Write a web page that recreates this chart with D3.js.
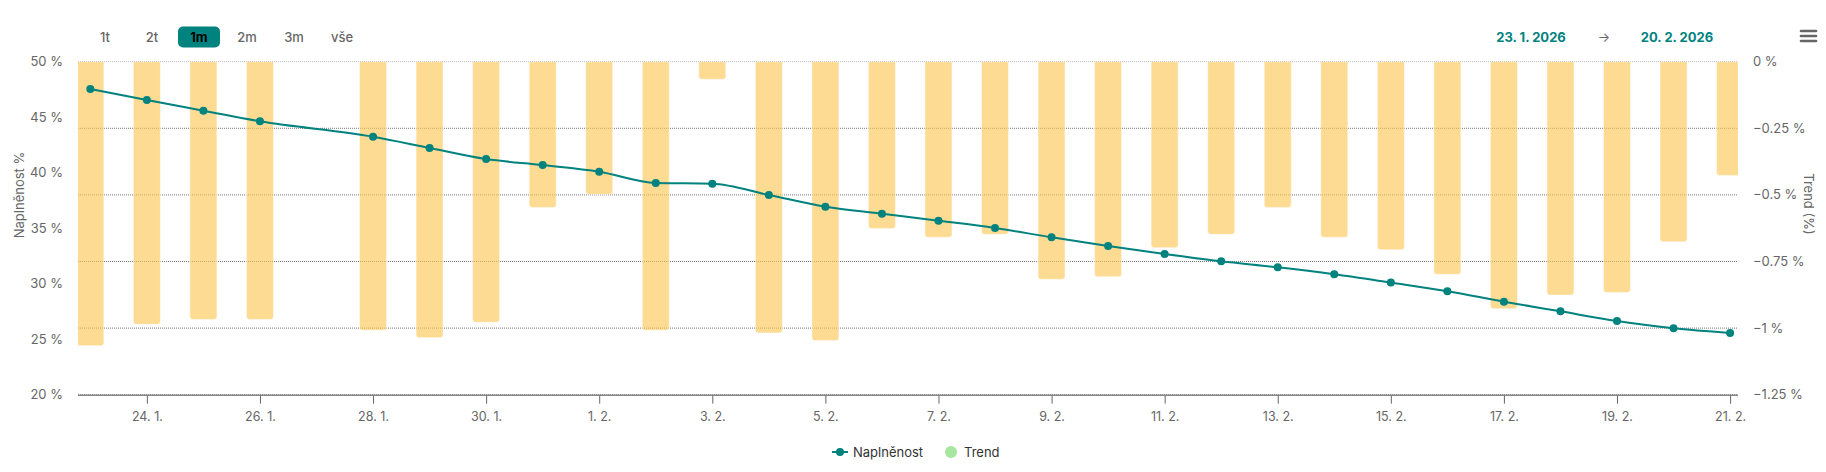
<!DOCTYPE html>
<html>
<head>
<meta charset="utf-8">
<script src="https://cdn.jsdelivr.net/npm/d3@7"></script>
<style>
  body { margin: 0; background: #fff; font-family: Inter, "Noto Sans", sans-serif; }
  svg text { font-family: Inter, "Noto Sans", sans-serif; }
</style>
</head>
<body>
<div id="chart"></div>
<script>
const dates = [
  "2026-01-23", "2026-01-24", "2026-01-25", "2026-01-26", "2026-01-28",
  "2026-01-29", "2026-01-30", "2026-01-31", "2026-02-01", "2026-02-02",
  "2026-02-03", "2026-02-04", "2026-02-05", "2026-02-06", "2026-02-07",
  "2026-02-08", "2026-02-09", "2026-02-10", "2026-02-11", "2026-02-12",
  "2026-02-13", "2026-02-14", "2026-02-15", "2026-02-16", "2026-02-17",
  "2026-02-18", "2026-02-19", "2026-02-20", "2026-02-21"
];

// Naplněnost (%), left axis
const fillLevel = [
  47.54, 46.55, 45.59, 44.63, 43.24, 42.23, 41.23, 40.69, 40.09, 39.07,
  39.01, 37.99, 36.94, 36.31, 35.68, 35.02, 34.18, 33.40, 32.68, 32.02,
  31.48, 30.85, 30.10, 29.32, 28.38, 27.51, 26.64, 25.98, 25.56
];

// Trend (%), right axis
const trend = [
  -1.066, -0.986, -0.968, -0.968, -1.008, -1.036, -0.978, -0.547, -0.498, -1.008,
  -0.066, -1.018, -1.047, -0.626, -0.659, -0.648, -0.817, -0.807, -0.698, -0.648,
  -0.547, -0.659, -0.706, -0.798, -0.927, -0.876, -0.866, -0.676, -0.427
];

const tickDates = [
  "2026-01-24", "2026-01-26", "2026-01-28", "2026-01-30", "2026-02-01",
  "2026-02-03", "2026-02-05", "2026-02-07", "2026-02-09", "2026-02-11",
  "2026-02-13", "2026-02-15", "2026-02-17", "2026-02-19", "2026-02-21"
];
const leftTicks = [20, 25, 30, 35, 40, 45, 50];
const rightTicks = [0, -0.25, -0.5, -0.75, -1, -1.25];
const rangeButtons = ["1t", "2t", "1m", "2m", "3m", "vše"];
const activeButton = "1m";
const rangeFrom = "23. 1. 2026",
  rangeTo = "20. 2. 2026";

const width = 1826,
  height = 472;
const plot = { left: 78, right: 1738, top: 61.7, bottom: 394.7 };
const teal = "#00827e",
  barColor = "#fdc655",
  trendColor = "#a6e6a1",
  labelColor = "#666";

const parse = d3.utcParse("%Y-%m-%d");
const day = 864e5;
const points = dates.map((d, i) => ({ date: parse(d), fill: fillLevel[i], trend: trend[i] }));

const svg = d3.select("#chart")
  .append("svg")
  .attr("width", width)
  .attr("height", height);

// Scales
const x = d3.scaleUtc()
  .domain([new Date(+parse(dates[0]) - 0.218 * day), new Date(+parse(dates[dates.length - 1]) + 0.14 * day)])
  .range([plot.left, plot.right]);
const yLeft = d3.scaleLinear().domain([20, 50]).range([plot.bottom, plot.top]);
const yRight = d3.scaleLinear().domain([-1.25, 0]).range([plot.bottom, plot.top]);

svg.append("defs").append("clipPath")
  .attr("id", "plot-clip")
  .append("rect")
  .attr("x", plot.left)
  .attr("y", plot.top)
  .attr("width", plot.right - plot.left)
  .attr("height", plot.bottom - plot.top);

// Grid lines (from right axis)
svg.append("g")
  .selectAll("line")
  .data(rightTicks)
  .join("line")
  .attr("x1", plot.left)
  .attr("x2", plot.right)
  .attr("y1", d => yRight(d))
  .attr("y2", d => yRight(d))
  .attr("stroke", (d, i) => (i === 0 ? "#bbb" : "#777"))
  .attr("stroke-width", 1)
  .attr("stroke-dasharray", "1,1");

// Trend bars, hanging from 0 with rounded bottom corners
const barW = 27,
  r = 3;
function barPath(d) {
  const cx = x(d.date),
    x0 = cx - barW / 2,
    x1 = cx + barW / 2,
    y0 = yRight(0),
    y1 = yRight(d.trend);
  const rr = Math.min(r, (y1 - y0) / 2);
  return `M${x0},${y0}L${x1},${y0}L${x1},${y1 - rr}Q${x1},${y1} ${x1 - rr},${y1}` +
    `L${x0 + rr},${y1}Q${x0},${y1} ${x0},${y1 - rr}Z`;
}

svg.append("g")
  .attr("clip-path", "url(#plot-clip)")
  .selectAll("path")
  .data(points)
  .join("path")
  .attr("d", barPath)
  .attr("fill", barColor)
  .attr("fill-opacity", 0.64)
  .attr("stroke", "#fff")
  .attr("stroke-opacity", 0.45)
  .attr("stroke-width", 1);

// X axis
svg.append("line")
  .attr("x1", plot.left)
  .attr("x2", plot.right)
  .attr("y1", plot.bottom + 0.5)
  .attr("y2", plot.bottom + 0.5)
  .attr("stroke", "#888")
  .attr("stroke-width", 1.5);

const xAxis = d3.axisBottom(x)
  .tickValues(tickDates.map(parse))
  .tickSize(8)
  .tickPadding(8)
  .tickFormat(d => `${d.getUTCDate()}. ${d.getUTCMonth() + 1}.`);

const gx = svg.append("g")
  .attr("transform", `translate(0,${plot.bottom + 1})`)
  .call(xAxis);
gx.select(".domain").remove();
gx.selectAll(".tick line").attr("stroke", "#666");
gx.selectAll(".tick text")
  .attr("fill", labelColor)
  .attr("font-size", 12.5);

// Left axis labels
svg.append("g")
  .selectAll("text")
  .data(leftTicks)
  .join("text")
  .attr("x", 63)
  .attr("y", d => yLeft(d))
  .attr("dy", "0.35em")
  .attr("text-anchor", "end")
  .attr("fill", labelColor)
  .attr("font-size", 13)
  .text(d => `${d} %`);

// Right axis labels
svg.append("g")
  .selectAll("text")
  .data(rightTicks)
  .join("text")
  .attr("x", 1753)
  .attr("y", d => yRight(d))
  .attr("dy", "0.35em")
  .attr("fill", labelColor)
  .attr("font-size", 13)
  .text(d => `${String(d).replace("-", "\u2212")} %`);

// Axis titles
svg.append("text")
  .attr("transform", "translate(24,195) rotate(-90)")
  .attr("text-anchor", "middle")
  .attr("fill", labelColor)
  .attr("font-size", 13)
  .text("Naplněnost %");

svg.append("text")
  .attr("transform", "translate(1804,204) rotate(90)")
  .attr("text-anchor", "middle")
  .attr("fill", labelColor)
  .attr("font-size", 13)
  .text("Trend (%)");

// Naplněnost line
const line = d3.line()
  .x(d => x(d.date))
  .y(d => yLeft(d.fill))
  .curve(d3.curveMonotoneX);

svg.append("path")
  .datum(points)
  .attr("fill", "none")
  .attr("stroke", teal)
  .attr("stroke-width", 2)
  .attr("d", line);

svg.append("g")
  .selectAll("circle")
  .data(points)
  .join("circle")
  .attr("cx", d => x(d.date))
  .attr("cy", d => yLeft(d.fill))
  .attr("r", 4)
  .attr("fill", teal);

// Range selector buttons
const buttonX = [105, 152, 199, 247, 294, 342];
const buttons = svg.append("g")
  .selectAll("g")
  .data(rangeButtons)
  .join("g")
  .attr("transform", (d, i) => `translate(${buttonX[i]},37)`);

buttons.filter(d => d === activeButton)
  .append("rect")
  .attr("x", -21)
  .attr("y", -10.5)
  .attr("width", 42)
  .attr("height", 21)
  .attr("rx", 5)
  .attr("fill", teal);

buttons.append("text")
  .attr("text-anchor", "middle")
  .attr("dy", "0.35em")
  .attr("font-size", 13)
  .attr("font-weight", d => (d === activeButton ? 700 : 500))
  .attr("fill", d => (d === activeButton ? "#000" : labelColor))
  .text(d => d);

// Date range inputs
svg.append("text")
  .attr("x", 1531)
  .attr("y", 37)
  .attr("dy", "0.35em")
  .attr("text-anchor", "middle")
  .attr("font-size", 13)
  .attr("font-weight", 700)
  .attr("fill", teal)
  .text(rangeFrom);

svg.append("text")
  .attr("x", 1604)
  .attr("y", 37)
  .attr("dy", "0.35em")
  .attr("text-anchor", "middle")
  .attr("font-size", 13)
  .attr("fill", labelColor)
  .text("→");

svg.append("text")
  .attr("x", 1677)
  .attr("y", 37)
  .attr("dy", "0.35em")
  .attr("text-anchor", "middle")
  .attr("font-size", 13)
  .attr("font-weight", 700)
  .attr("fill", teal)
  .text(rangeTo);

// Menu icon
svg.append("g")
  .selectAll("line")
  .data([31, 36, 41])
  .join("line")
  .attr("x1", 1801)
  .attr("x2", 1816)
  .attr("y1", d => d)
  .attr("y2", d => d)
  .attr("stroke", "#666")
  .attr("stroke-width", 2.6)
  .attr("stroke-linecap", "round");

// Legend
const legend = svg.append("g").attr("transform", "translate(0,452)");
legend.append("line")
  .attr("x1", 832)
  .attr("x2", 848)
  .attr("stroke", teal)
  .attr("stroke-width", 2);
legend.append("circle")
  .attr("cx", 840)
  .attr("r", 4)
  .attr("fill", teal);
legend.append("text")
  .attr("x", 853)
  .attr("dy", "0.35em")
  .attr("font-size", 13)
  .attr("fill", "#333")
  .text("Naplněnost");
legend.append("circle")
  .attr("cx", 951)
  .attr("r", 6)
  .attr("fill", trendColor);
legend.append("text")
  .attr("x", 964)
  .attr("dy", "0.35em")
  .attr("font-size", 13)
  .attr("fill", "#333")
  .text("Trend");
</script>
</body>
</html>
